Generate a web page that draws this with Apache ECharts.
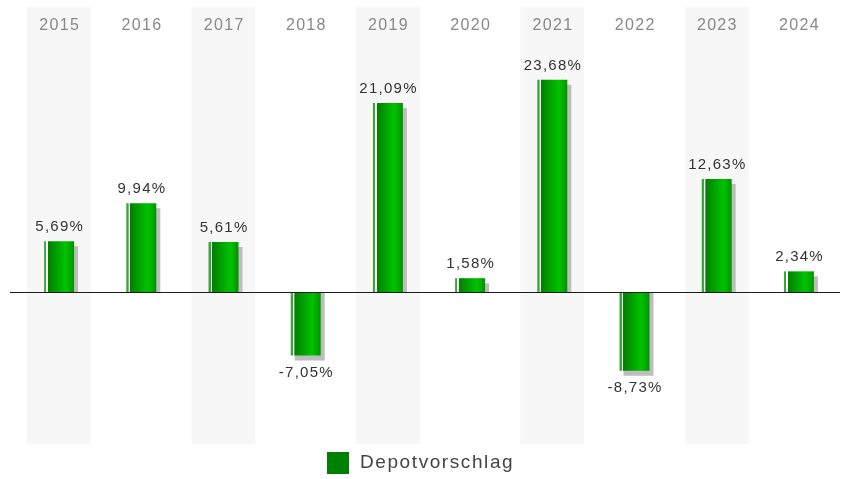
<!DOCTYPE html>
<html>
<head>
<meta charset="utf-8">
<script src="https://cdn.jsdelivr.net/npm/echarts@6/dist/echarts.min.js"></script>
<style>
  html, body { margin: 0; padding: 0; background: #fff; }
  #chart { width: 842px; height: 479px; }
</style>
</head>
<body>
<div id="chart"></div>
<script>
// data
var years = ['2015', '2016', '2017', '2018', '2019', '2020', '2021', '2022', '2023', '2024']
var depotvorschlag = [5.69, 9.94, 5.61, -7.05, 21.09, 1.58, 23.68, -8.73, 12.63, 2.34]
var shadedYears = ['2015', '2017', '2019', '2021', '2023']

var yMin = -16.9
var yMax = 31.8

// letter spaced text
function spaced(s) {
  return String(s).split('').join('\u200A')
}

function fmtPct(v) {
  return spaced(v.toFixed(2).replace('.', ',') + '%')
}

var barColor = {
  type: 'linear', x: 0, y: 0, x2: 1, y2: 0,
  colorStops: [
    { offset: 0, color: '#3aa53a' },
    { offset: 0.07, color: '#3aa53a' },
    { offset: 0.08, color: '#ffffff' },
    { offset: 0.12, color: '#ffffff' },
    { offset: 0.13, color: '#007f00' },
    { offset: 0.72, color: '#00c300' },
    { offset: 1, color: '#009400' }
  ]
}

// negative bars get their label underneath, below the shadow
var barData = depotvorschlag.map(function (v) {
  return {
    value: v,
    label: v < 0 ? { position: 'bottom', distance: 10 } : { position: 'top', distance: 7 }
  }
})

var shadowData = depotvorschlag.map(function (v, i) { return [i, v] })

var bgUp = years.map(function (y) { return shadedYears.indexOf(y) >= 0 ? yMax : '-' })
var bgDown = years.map(function (y) { return shadedYears.indexOf(y) >= 0 ? yMin : '-' })

// drop shadow behind each bar, cut at the zero line
function renderShadow(params, api) {
  var v = api.value(1)
  var base = api.coord([api.value(0), 0])
  var end = api.coord([api.value(0), v])
  var x = base[0] - 15 + 4
  var y0, y1
  if (v >= 0) {
    y0 = end[1] + 5
    y1 = base[1]
  } else {
    y0 = base[1]
    y1 = end[1] + 5
  }
  return {
    type: 'rect',
    shape: { x: x, y: y0, width: 30, height: y1 - y0 },
    style: { fill: '#bdbdbd' }
  }
}

var myChart = echarts.init(document.getElementById('chart'))

var option = {
  animation: false,
  grid: { left: 18, right: 2, top: 7, bottom: 35 },
  legend: {
    left: 322,
    top: 447,
    itemWidth: 22,
    itemHeight: 22,
    icon: 'rect',
    formatter: function (name) { return spaced(name) },
    textStyle: {
      fontFamily: 'Liberation Sans, Arial, sans-serif',
      fontSize: 19,
      color: '#444',
      padding: [0, 0, 0, 6]
    },
    data: [{ name: 'Depotvorschlag', itemStyle: { color: '#008000' } }]
  },
  xAxis: [
    {
      type: 'category',
      data: years,
      position: 'top',
      axisLine: { show: false },
      axisTick: { show: false },
      axisLabel: {
        inside: true,
        margin: 11,
        color: '#888',
        fontSize: 16,
        fontFamily: 'Liberation Sans, Arial, sans-serif',
        formatter: function (v) { return spaced(v) }
      }
    },
    {
      type: 'category',
      data: years,
      show: false
    }
  ],
  yAxis: {
    type: 'value',
    min: yMin,
    max: yMax,
    show: false,
    splitLine: { show: false }
  },
  series: [
    {
      name: 'bgUp',
      type: 'bar',
      xAxisIndex: 1,
      stack: 'bg',
      barWidth: 64,
      silent: true,
      z: 0,
      itemStyle: { color: '#f7f7f7' },
      data: bgUp
    },
    {
      name: 'bgDown',
      type: 'bar',
      xAxisIndex: 1,
      stack: 'bg',
      barWidth: 64,
      silent: true,
      z: 0,
      itemStyle: { color: '#f7f7f7' },
      data: bgDown,
      markLine: {
        silent: true,
        symbol: 'none',
        label: { show: false },
        lineStyle: { color: '#1a1a1a', width: 1, type: 'solid' },
        data: [[{ x: 10, yAxis: 0 }, { x: 840, yAxis: 0 }]]
      }
    },
    {
      name: 'shadow',
      type: 'custom',
      xAxisIndex: 0,
      silent: true,
      z: 2,
      renderItem: renderShadow,
      data: shadowData
    },
    {
      name: 'Depotvorschlag',
      type: 'bar',
      xAxisIndex: 0,
      barWidth: 30,
      z: 3,
      itemStyle: { color: barColor },
      label: {
        show: true,
        color: '#333',
        fontSize: 15,
        fontFamily: 'Liberation Sans, Arial, sans-serif',
        formatter: function (p) { return fmtPct(p.value) }
      },
      data: barData
    }
  ]
}

myChart.setOption(option)
</script>
</body>
</html>
